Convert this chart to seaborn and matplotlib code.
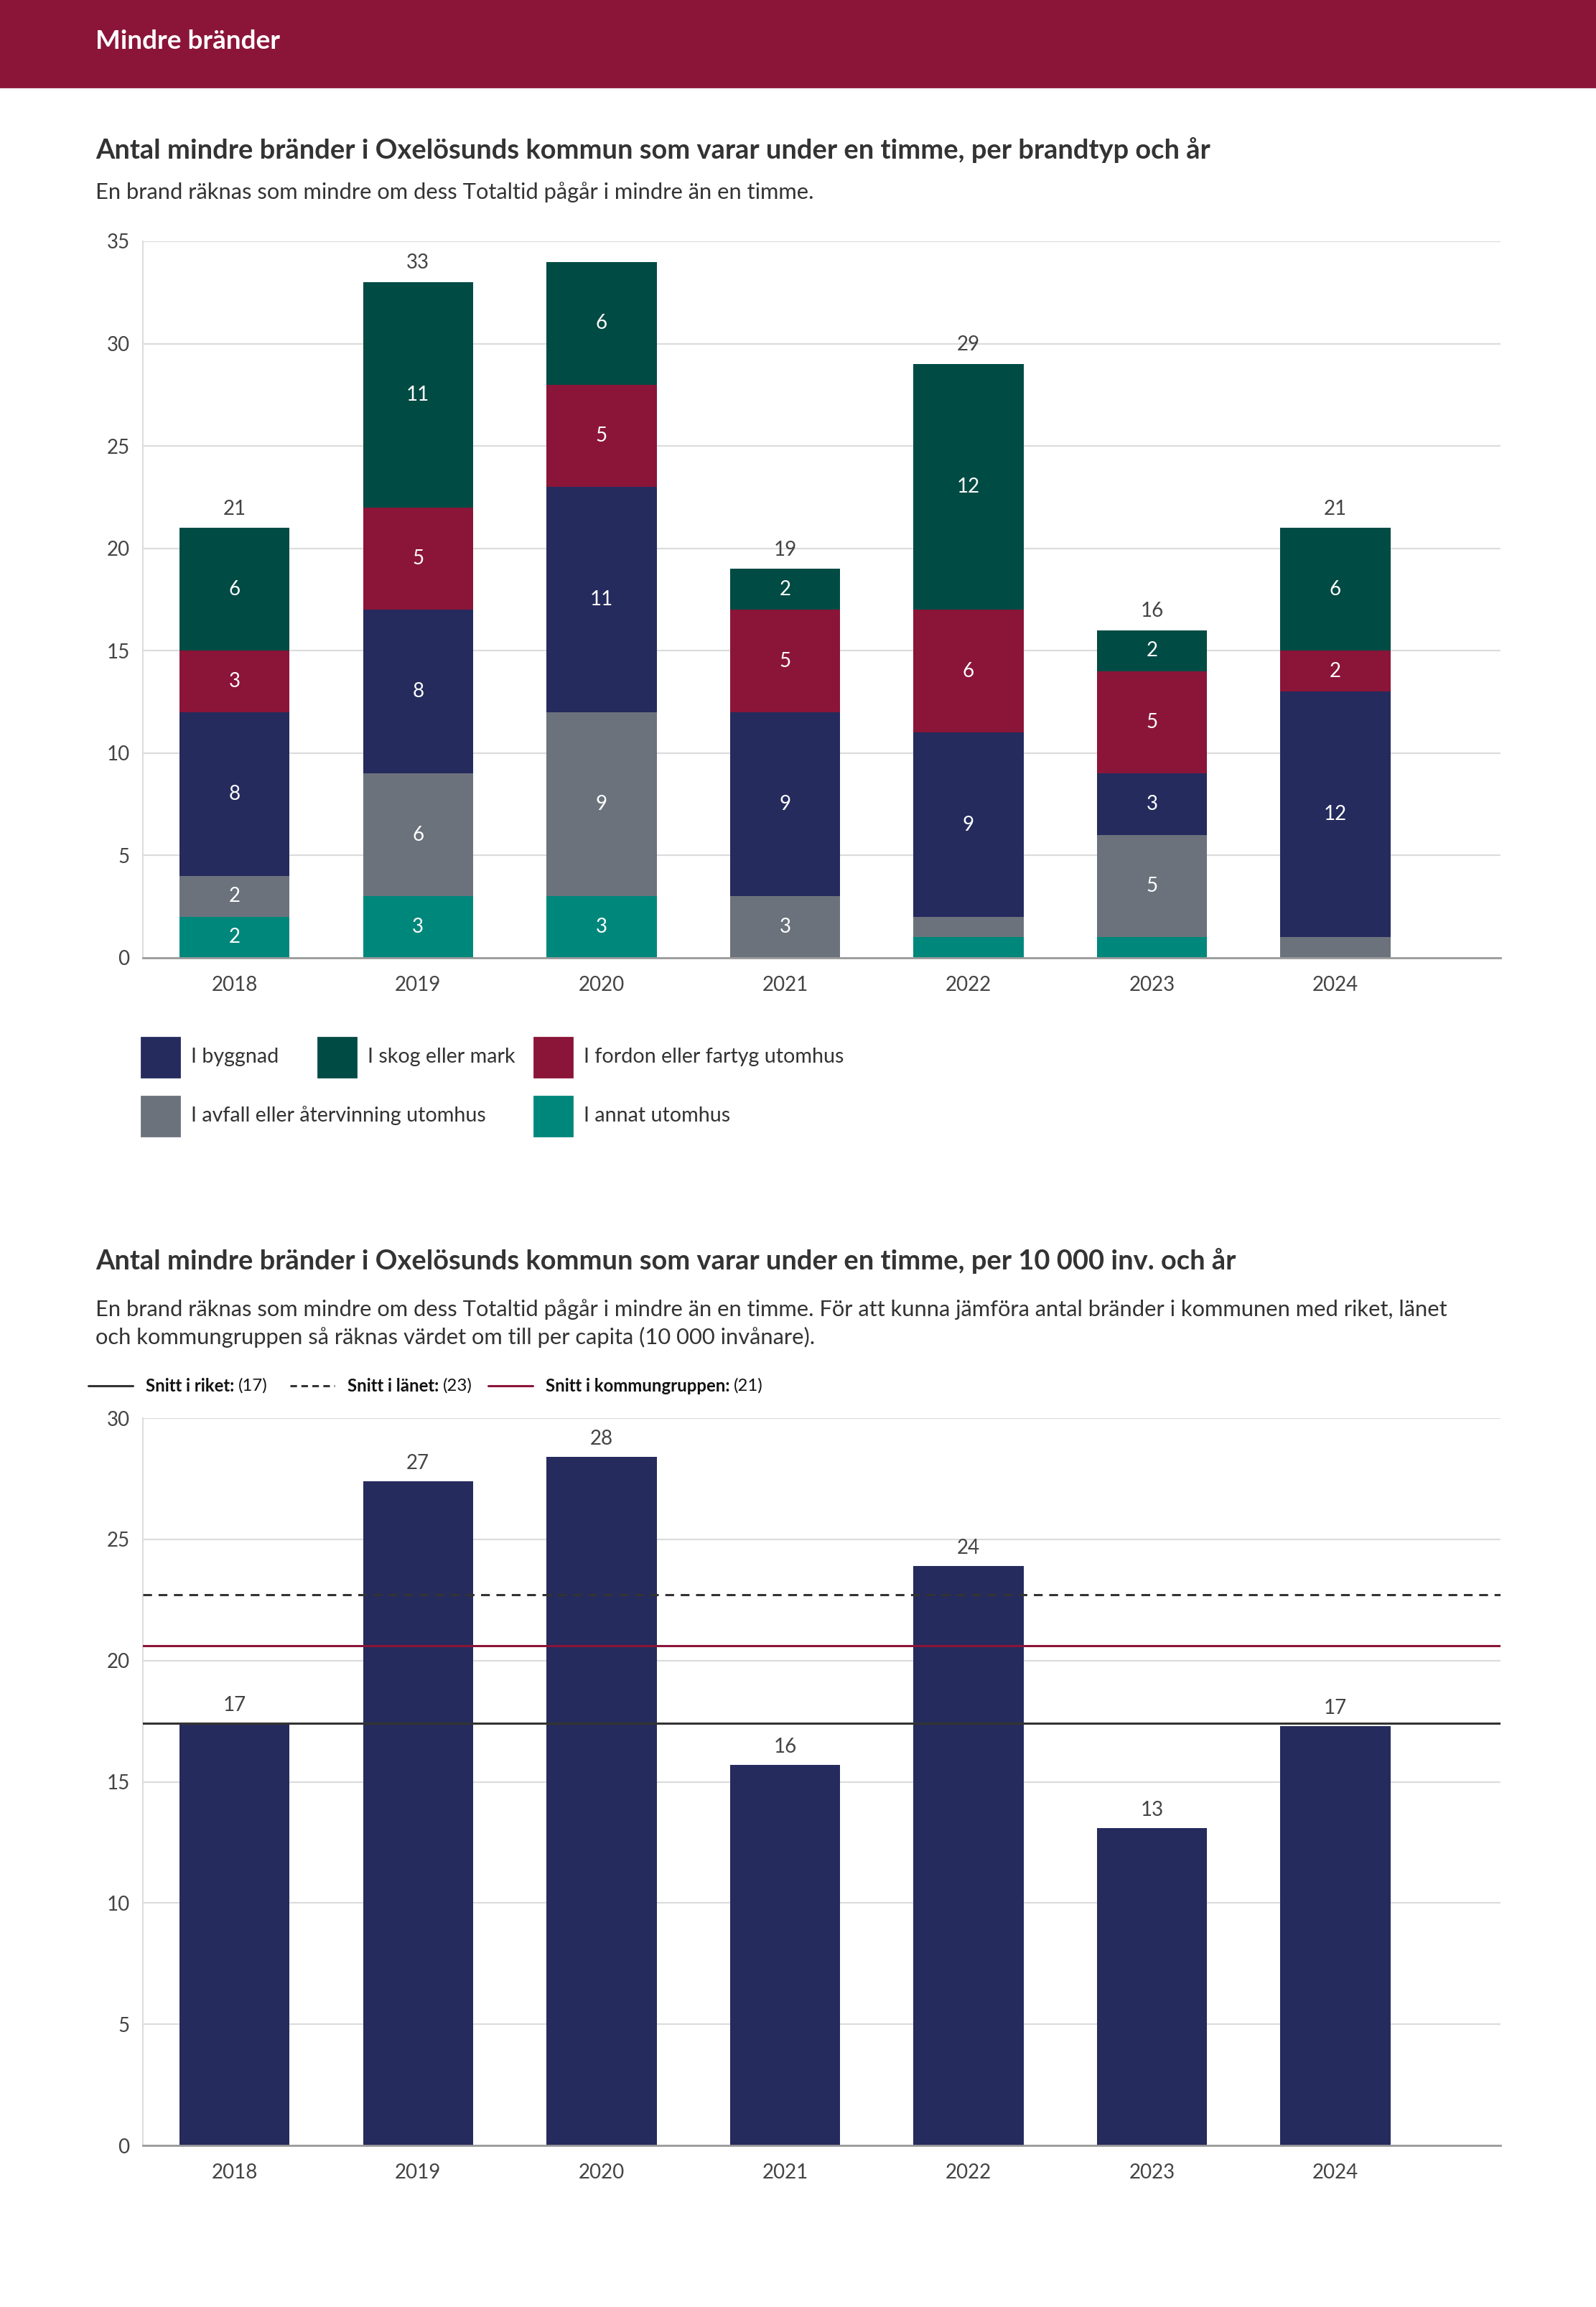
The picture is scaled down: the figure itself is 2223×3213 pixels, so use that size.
import numpy as np
import pandas as pd
import matplotlib
matplotlib.use("Agg")
import matplotlib.pyplot as plt
import matplotlib.patches as mpatches
from matplotlib.lines import Line2D
import seaborn as sns

# Data
years = ["2018", "2019", "2020", "2021", "2022", "2023", "2024"]

# stacked chart, bottom to top
annat = [2, 3, 3, 0, 1, 1, 0]
avfall = [2, 6, 9, 3, 1, 5, 1]
byggnad = [8, 8, 11, 9, 9, 3, 12]
fordon = [3, 5, 5, 5, 6, 5, 2]
skog = [6, 11, 6, 2, 12, 2, 6]

layer_names = ["I annat utomhus", "I avfall eller återvinning utomhus", "I byggnad",
               "I fordon eller fartyg utomhus", "I skog eller mark"]
layer_vals = [annat, avfall, byggnad, fordon, skog]
layer_cols = ["#00877b", "#6b727c", "#252b5d", "#8b1538", "#004b44"]

# per 10 000 inv.
per_capita = [17.4, 27.4, 28.4, 15.7, 23.9, 13.1, 17.3]
snitt_riket = 17.4
snitt_lanet = 22.7
snitt_kommungrupp = 20.6

# Setup
sns.set_theme(style="white")
plt.rcParams['font.family'] = ['Lato', 'DejaVu Sans']

W, H = 2223, 3213
DPI = 200
fig = plt.figure(figsize=(W / DPI, H / DPI), dpi=DPI)
fig.patch.set_facecolor("white")

maroon = "#8b1538"
txt = "#333333"
grid_c = "#dcdcdc"


def box(l, t, r, b):
    return [l / W, 1 - b / H, (r - l) / W, (b - t) / H]


def fx(x):
    return x / W


def fy(y):
    return 1 - y / H


def style_axes(ax, ymax):
    ax.set_ylim(0, ymax)
    ax.set_xlim(-0.5, 6.9)
    ax.set_yticks(np.arange(0, ymax + 1, 5))
    ax.yaxis.grid(True, color=grid_c, linewidth=0.8)
    ax.set_axisbelow(True)
    for s in ["top", "right"]:
        ax.spines[s].set_visible(False)
    ax.spines["left"].set_color(grid_c)
    ax.spines["left"].set_linewidth(0.7)
    ax.spines["bottom"].set_color("#9a9a9a")
    ax.spines["bottom"].set_linewidth(1.0)
    ax.tick_params(axis="y", length=3.6, color=grid_c, pad=3, labelsize=10, labelcolor="#444444")
    ax.tick_params(axis="x", length=0, pad=9, labelsize=10, labelcolor="#444444")
    ax.set_xlabel("")
    ax.set_ylabel("")


# Header band
fig.patches.append(mpatches.Rectangle((0, fy(121)), 1, 121 / H, transform=fig.transFigure,
                                      color=maroon, zorder=0))
fig.text(fx(133), fy(57), "Mindre bränder", color="white", fontsize=13.3, fontweight="bold", va="center")

# Chart 1
fig.text(fx(133), fy(209), "Antal mindre bränder i Oxelösunds kommun som varar under en timme, per brandtyp och år",
         color=txt, fontsize=13.7, fontweight="bold", va="center")
fig.text(fx(133), fy(268), "En brand räknas som mindre om dess Totaltid pågår i mindre än en timme.",
         color=txt, fontsize=11.1, va="center")

ax1 = fig.add_axes(box(199, 336, 2090, 1334))
cum = np.cumsum(np.array(layer_vals), axis=0)
# draw cumulative heights top-down so each layer shows as a stacked segment
for i in range(len(layer_vals) - 1, -1, -1):
    df = pd.DataFrame({"year": years, "v": cum[i]})
    sns.barplot(data=df, x="year", y="v", color=layer_cols[i], width=0.6, saturation=1, ax=ax1,
                linewidth=0, edgecolor="none", zorder=2)
for i in range(len(layer_vals)):
    for j in range(len(years)):
        v = layer_vals[i][j]
        if v >= 2:
            ax1.text(j, cum[i][j] - v / 2, str(v), ha="center", va="center", color="white", fontsize=10, zorder=3)
totals = cum[-1]
for j, t in enumerate(totals):
    if t <= 35 - 1.5:
        ax1.annotate(str(t), (j, t), xytext=(0, 9.6), textcoords="offset points", ha="center", va="center",
                     color="#444444", fontsize=10)
style_axes(ax1, 35)

# Legend chart 1
leg_items = [
    ("I byggnad", "#252b5d", 197, 1445),
    ("I skog eller mark", "#004b44", 443, 1445),
    ("I fordon eller fartyg utomhus", "#8b1538", 744, 1445),
    ("I avfall eller återvinning utomhus", "#6b727c", 197, 1527),
    ("I annat utomhus", "#00877b", 744, 1527),
]
for name, c, x, y in leg_items:
    fig.patches.append(mpatches.Rectangle((fx(x), fy(y + 55)), 53 / W, 55 / H, transform=fig.transFigure,
                                          color=c))
    fig.text(fx(x + 69), fy(y + 27), name, color=txt, fontsize=10.3, va="center")

# Chart 2
fig.text(fx(133), fy(1756), "Antal mindre bränder i Oxelösunds kommun som varar under en timme, per 10 000 inv. och år",
         color=txt, fontsize=13.7, fontweight="bold", va="center")
fig.text(fx(133), fy(1843),
         "En brand räknas som mindre om dess Totaltid pågår i mindre än en timme. För att kunna jämföra antal bränder i kommunen med riket, länet\n"
         "och kommungruppen så räknas värdet om till per capita (10 000 invånare).",
         color=txt, fontsize=11.1, va="center", linespacing=1.45)

leg2 = [
    ("Snitt i riket: ", "(17)", "-", "#333333", 123),
    ("Snitt i länet: ", "(23)", "--", "#333333", 404),
    ("Snitt i kommungruppen: ", "(21)", "-", maroon, 680),
]
for lab, val, ls, c, x in leg2:
    fig.lines.append(Line2D([fx(x), fx(x + 62)], [fy(1930), fy(1930)], transform=fig.transFigure,
                            color=c, linestyle=ls, linewidth=1.1, dashes=(3, 2) if ls == "--" else (None, None)))
    t = fig.text(fx(x + 80), fy(1930), lab, color="#111111", fontsize=8.6, fontweight="bold", va="center")
    plt.annotate(val, xy=(1, 0.5), xycoords=t, va="center", ha="left", color="#111111", fontsize=8.6)

ax2 = fig.add_axes(box(199, 1975, 2090, 2988))
df2 = pd.DataFrame({"year": years, "v": per_capita})
sns.barplot(data=df2, x="year", y="v", color="#252b5d", width=0.6, saturation=1, ax=ax2,
            linewidth=0, edgecolor="none", zorder=2)
ax2.axhline(snitt_riket, color="#333333", linewidth=1.1, zorder=4)
ax2.axhline(snitt_lanet, color="#333333", linewidth=1.1, linestyle=(0, (4, 3)), zorder=4)
ax2.axhline(snitt_kommungrupp, color=maroon, linewidth=1.1, zorder=4)
for j, v in enumerate(per_capita):
    ax2.annotate(str(int(round(v))), (j, v), xytext=(0, 9), textcoords="offset points", ha="center",
                 va="center", color="#444444", fontsize=10)
style_axes(ax2, 30)

fig.savefig("out.png", dpi=DPI)
